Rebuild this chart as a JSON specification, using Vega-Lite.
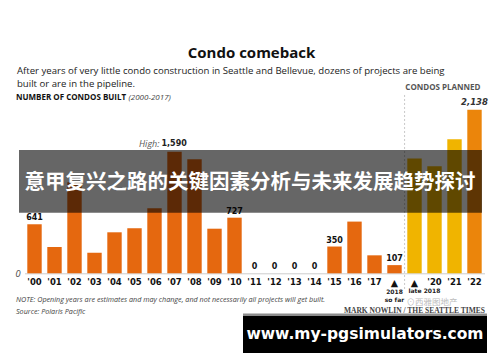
{
  "$schema": "https://vega.github.io/schema/vega-lite/v6.json",
  "autosize": {"type": "none"},
  "padding": {"left": 24.5, "right": 16, "top": 105, "bottom": 88.7},
  "width": 460,
  "height": 168.3,
  "background": "white",
  "config": {"view": {"stroke": null}},
  "title": {
    "text": "Condo comeback",
    "anchor": "middle",
    "frame": "bounds",
    "font": "Open Sans",
    "fontSize": 15,
    "fontWeight": "bold",
    "color": "#111111",
    "offset": 5
  },
  "datasets": {
    "bars": [
      {"year": "'00", "value": 641, "group": "Built", "lbl": "641"},
      {"year": "'01", "value": 344, "group": "Built"},
      {"year": "'02", "value": 1190, "group": "Built"},
      {"year": "'03", "value": 270, "group": "Built"},
      {"year": "'04", "value": 536, "group": "Built"},
      {"year": "'05", "value": 589, "group": "Built"},
      {"year": "'06", "value": 850, "group": "Built"},
      {"year": "'07", "value": 1590, "group": "Built"},
      {"year": "'08", "value": 1490, "group": "Built"},
      {"year": "'09", "value": 583, "group": "Built"},
      {"year": "'10", "value": 727, "group": "Built", "lbl": "727"},
      {"year": "'11", "value": 0, "group": "Built", "lbl": "0"},
      {"year": "'12", "value": 0, "group": "Built", "lbl": "0"},
      {"year": "'13", "value": 0, "group": "Built", "lbl": "0"},
      {"year": "'14", "value": 0, "group": "Built", "lbl": "0"},
      {"year": "'15", "value": 350, "group": "Built", "lbl": "350"},
      {"year": "'16", "value": 676, "group": "Built"},
      {"year": "'17", "value": 235, "group": "Built"},
      {"year": "2018 so far", "value": 107, "group": "Built", "lbl": "107"},
      {"year": "late 2018", "value": 1500, "group": "Planned"},
      {"year": "'20", "value": 1400, "group": "Planned"},
      {"year": "'21", "value": 1753, "group": "Planned"},
      {"year": "'22", "value": 2138, "group": "Planned peak", "lbli": "2,138"}
    ],
    "notes": [
      {"role": "sub", "year": "'00", "y": 2644, "text": "After years of very little condo construction in Seattle and Bellevue, dozens of projects are being"},
      {"role": "sub", "year": "'00", "y": 2481, "text": "built or are in the pipeline."},
      {"role": "head", "year": "'00", "y": 2291, "text": "NUMBER OF CONDOS BUILT"},
      {"role": "headi", "year": "'05", "y": 2291, "text": "(2000-2017)"},
      {"role": "planned", "year": "'22", "y": 2416, "text": "CONDOS PLANNED"},
      {"role": "highi", "year": "'07", "y": 1684, "text": "High:"},
      {"role": "highb", "year": "'07", "y": 1684, "text": "1,590"},
      {"role": "note", "year": "'00", "y": -349, "text": "NOTE: Opening years are estimates and may change, and not necessarily all projects will get built."},
      {"role": "note", "year": "'00", "y": -512, "text": "Source: Polaris Pacific"},
      {"role": "credit", "year": "'22", "y": -495, "text": "MARK NOWLIN / THE SEATTLE TIMES"},
      {"role": "tri", "year": "2018 so far", "y": -238, "text": "2018"},
      {"role": "tri", "year": "2018 so far", "y": -350, "text": "so far"},
      {"role": "tril", "year": "late 2018", "y": -232, "text": "late 2018"},
      {"role": "wm", "year": "late 2018", "y": -370, "text": "⊙西雅图地产"},
      {"role": "divider", "year": "2018 so far", "y": 2331, "y2": -218},
      {"role": "banner", "year": "'00", "year2": "'22", "y": 1612, "y2": 792},
      {"role": "bannertext", "year": "'11", "y": 1180, "text": "意甲复兴之路的关键因素分析与未来发展趋势探讨"},
      {"role": "strip", "year": "'11", "year2": "'22", "y": -525, "y2": -558},
      {"role": "box", "year": "'11", "year2": "'22", "y": -558, "y2": -1042},
      {"role": "site", "year": "'16", "y": -793, "text": "www.my-pgsimulators.com"}
    ]
  },
  "encoding": {
    "x": {
      "field": "year",
      "type": "nominal",
      "sort": null,
      "scale": {"domain": ["'00","'01","'02","'03","'04","'05","'06","'07","'08","'09","'10","'11","'12","'13","'14","'15","'16","'17","2018 so far","late 2018","'20","'21","'22"], "paddingInner": 0.28, "paddingOuter": 0.14},
      "axis": {
        "title": null,
        "labelAngle": 0,
        "ticks": false,
        "domainColor": "#cccccc",
        "labelPadding": 4,
        "labelFont": "DejaVu Sans",
        "labelFontSize": {"condition": {"test": "datum.value == '2018 so far' || datum.value == 'late 2018'", "value": 9.5}, "value": 8.5},
        "labelFontWeight": "bold",
        "labelColor": "#111111",
        "labelExpr": "datum.value == '2018 so far' || datum.value == 'late 2018' ? '▲' : datum.value"
      }
    }
  },
  "layer": [
    {
      "data": {"name": "notes"},
      "transform": [{"filter": "datum.role == 'divider'"}],
      "mark": {"type": "rule", "color": "#c8c8c8", "strokeDash": [2, 2], "strokeWidth": 1},
      "encoding": {
        "x": {"field": "year", "type": "nominal", "sort": null, "bandPosition": 1.2},
        "y": {"field": "y", "type": "quantitative"},
        "y2": {"field": "y2"}
      }
    },
    {
      "data": {"name": "bars"},
      "mark": {"type": "bar"},
      "encoding": {
        "y": {
          "field": "value",
          "type": "quantitative",
          "scale": {"domain": [0, 2200], "nice": false, "zero": true},
          "axis": {"title": null, "values": [0], "grid": false, "domain": false, "ticks": false, "labelPadding": 4, "labelFont": "DejaVu Sans", "labelFontStyle": "italic", "labelFontSize": 8.5, "labelColor": "#555555"}
        },
        "color": {
          "field": "group",
          "type": "nominal",
          "scale": {"domain": ["Built", "Planned", "Planned peak"], "range": ["#e5680f", "#f0b400", "#eb850b"]},
          "legend": null
        }
      }
    },
    {
      "data": {"name": "bars"},
      "transform": [{"filter": "datum.lbl != null"}],
      "mark": {"type": "text", "baseline": "bottom", "dy": -2, "font": "DejaVu Sans", "fontSize": 8, "fontWeight": "bold", "color": "#111111"},
      "encoding": {
        "y": {"field": "value", "type": "quantitative"},
        "text": {"field": "lbl"}
      }
    },
    {
      "data": {"name": "bars"},
      "transform": [{"filter": "datum.lbli != null"}],
      "mark": {"type": "text", "baseline": "bottom", "dy": -3, "font": "DejaVu Sans", "fontSize": 8.5, "fontWeight": "bold", "fontStyle": "italic", "color": "#333333"},
      "encoding": {
        "y": {"field": "value", "type": "quantitative"},
        "text": {"field": "lbli"}
      }
    },
    {
      "data": {"name": "notes"},
      "transform": [{"filter": "datum.role == 'sub'"}],
      "mark": {"type": "text", "align": "left", "baseline": "middle", "dx": -17.5, "font": "Open Sans", "fontSize": 9.6, "color": "#222222"},
      "encoding": {"y": {"field": "y", "type": "quantitative"}, "text": {"field": "text"}}
    },
    {
      "data": {"name": "notes"},
      "transform": [{"filter": "datum.role == 'head'"}],
      "mark": {"type": "text", "align": "left", "baseline": "middle", "dx": -18.5, "font": "Open Sans", "fontSize": 8, "fontWeight": "bold", "color": "#111111"},
      "encoding": {"y": {"field": "y", "type": "quantitative"}, "text": {"field": "text"}}
    },
    {
      "data": {"name": "notes"},
      "transform": [{"filter": "datum.role == 'headi'"}],
      "mark": {"type": "text", "align": "left", "baseline": "middle", "dx": -6, "font": "Open Sans", "fontSize": 8, "fontStyle": "italic", "color": "#444444"},
      "encoding": {"y": {"field": "y", "type": "quantitative"}, "text": {"field": "text"}}
    },
    {
      "data": {"name": "notes"},
      "transform": [{"filter": "datum.role == 'planned'"}],
      "mark": {"type": "text", "align": "right", "baseline": "middle", "dx": 6, "font": "Open Sans", "fontSize": 8, "fontWeight": "bold", "color": "#555555"},
      "encoding": {"y": {"field": "y", "type": "quantitative"}, "text": {"field": "text"}}
    },
    {
      "data": {"name": "notes"},
      "transform": [{"filter": "datum.role == 'highi'"}],
      "mark": {"type": "text", "align": "right", "baseline": "middle", "dx": -15, "font": "Open Sans", "fontSize": 9, "fontStyle": "italic", "color": "#555555"},
      "encoding": {"y": {"field": "y", "type": "quantitative"}, "text": {"field": "text"}}
    },
    {
      "data": {"name": "notes"},
      "transform": [{"filter": "datum.role == 'highb'"}],
      "mark": {"type": "text", "align": "left", "baseline": "middle", "dx": -13, "font": "DejaVu Sans", "fontSize": 8, "fontWeight": "bold", "color": "#222222"},
      "encoding": {"y": {"field": "y", "type": "quantitative"}, "text": {"field": "text"}}
    },
    {
      "data": {"name": "notes"},
      "transform": [{"filter": "datum.role == 'note'"}],
      "mark": {"type": "text", "align": "left", "baseline": "middle", "dx": -18.5, "font": "Open Sans", "fontSize": 7.2, "fontStyle": "italic", "color": "#444444"},
      "encoding": {"y": {"field": "y", "type": "quantitative"}, "text": {"field": "text"}}
    },
    {
      "data": {"name": "notes"},
      "transform": [{"filter": "datum.role == 'credit'"}],
      "mark": {"type": "text", "align": "right", "baseline": "middle", "dx": 10.5, "font": "Liberation Serif", "fontSize": 7.5, "fontWeight": "bold", "color": "#444444"},
      "encoding": {"y": {"field": "y", "type": "quantitative"}, "text": {"field": "text"}}
    },
    {
      "data": {"name": "notes"},
      "transform": [{"filter": "datum.role == 'tri'"}],
      "mark": {"type": "text", "align": "center", "baseline": "middle", "font": "DejaVu Sans", "fontSize": 6, "fontWeight": "bold", "color": "#222222"},
      "encoding": {"y": {"field": "y", "type": "quantitative"}, "text": {"field": "text"}}
    },
    {
      "data": {"name": "notes"},
      "transform": [{"filter": "datum.role == 'tril'"}],
      "mark": {"type": "text", "align": "left", "baseline": "middle", "dx": -6, "font": "DejaVu Sans", "fontSize": 6, "fontWeight": "bold", "color": "#222222"},
      "encoding": {"y": {"field": "y", "type": "quantitative"}, "text": {"field": "text"}}
    },
    {
      "data": {"name": "notes"},
      "transform": [{"filter": "datum.role == 'wm'"}],
      "mark": {"type": "text", "align": "left", "baseline": "middle", "dx": -8, "font": "Noto Sans CJK SC", "fontSize": 8.5, "color": "#bdbdbd"},
      "encoding": {"y": {"field": "y", "type": "quantitative"}, "text": {"field": "text"}}
    },
    {
      "data": {"name": "notes"},
      "transform": [{"filter": "datum.role == 'banner'"}],
      "mark": {"type": "rect", "color": "#000000", "opacity": 0.6, "xOffset": -15.5, "x2Offset": 7.5},
      "encoding": {
        "x": {"field": "year", "type": "nominal", "sort": null, "bandPosition": 0.5},
        "x2": {"field": "year2", "bandPosition": 0.5},
        "y": {"field": "y", "type": "quantitative"},
        "y2": {"field": "y2"}
      }
    },
    {
      "data": {"name": "notes"},
      "transform": [{"filter": "datum.role == 'bannertext'"}],
      "mark": {"type": "text", "align": "center", "baseline": "middle", "dx": -4.5, "font": "Noto Sans CJK SC", "fontSize": 20.5, "fontWeight": "bold", "color": "#ffffff"},
      "encoding": {"y": {"field": "y", "type": "quantitative"}, "text": {"field": "text"}}
    },
    {
      "data": {"name": "notes"},
      "transform": [{"filter": "datum.role == 'strip'"}],
      "mark": {"type": "rect", "color": "#8c8c8c", "xOffset": -11.5, "x2Offset": 12.5},
      "encoding": {
        "x": {"field": "year", "type": "nominal", "sort": null, "bandPosition": 0.5},
        "x2": {"field": "year2", "bandPosition": 0.5},
        "y": {"field": "y", "type": "quantitative"},
        "y2": {"field": "y2"}
      }
    },
    {
      "data": {"name": "notes"},
      "transform": [{"filter": "datum.role == 'box'"}],
      "mark": {"type": "rect", "color": "#000000", "xOffset": -11.5, "x2Offset": 12.5},
      "encoding": {
        "x": {"field": "year", "type": "nominal", "sort": null, "bandPosition": 0.5},
        "x2": {"field": "year2", "bandPosition": 0.5},
        "y": {"field": "y", "type": "quantitative"},
        "y2": {"field": "y2"}
      }
    },
    {
      "data": {"name": "notes"},
      "transform": [{"filter": "datum.role == 'site'"}],
      "mark": {"type": "text", "align": "center", "baseline": "middle", "dx": 10.5, "font": "DejaVu Sans", "fontSize": 15.5, "fontWeight": "bold", "color": "#ffffff"},
      "encoding": {"y": {"field": "y", "type": "quantitative"}, "text": {"field": "text"}}
    }
  ]
}
